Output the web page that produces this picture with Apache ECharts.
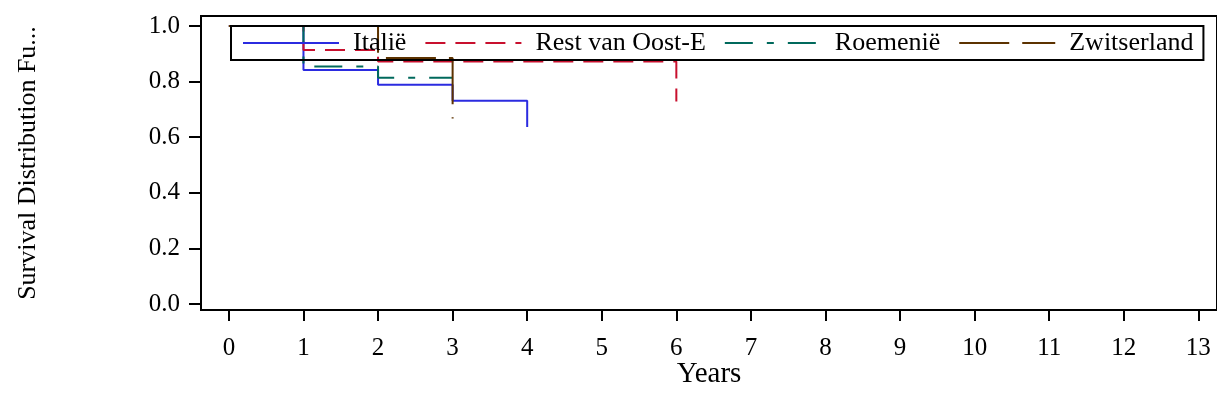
<!DOCTYPE html>
<html>
<head>
<meta charset="utf-8">
<script src="https://cdn.jsdelivr.net/npm/echarts@6/dist/echarts.min.js"></script>
<style>
html,body{margin:0;padding:0;background:#fff;}
#chart{width:1217px;height:410px;}
</style>
</head>
<body>
<div id="chart"></div>
<script>
// Data (Kaplan-Meier step curves)
var seriesNames = ['Italië', 'Rest van Oost-E', 'Roemenië', 'Zwitserland'];
var italieYears = [0, 1, 2, 3, 4];
var italieSurv  = [1.0, 0.842, 0.789, 0.731, 0.637];
var restYears = [0, 1, 2, 6];
var restSurv  = [1.0, 0.914, 0.872, 0.728];
var roemYears = [0, 1, 2, 3];
var roemSurv  = [1.0, 0.854, 0.814, 0.814];
var zwitYears = [0, 2, 3];
var zwitSurv  = [1.0, 0.885, 0.667];
var xTicks = [0, 1, 2, 3, 4, 5, 6, 7, 8, 9, 10, 11, 12, 13];
var yTicks = [0.0, 0.2, 0.4, 0.6, 0.8, 1.0];

function pairs(xs, ys) { return xs.map(function (x, i) { return [x, ys[i]]; }); }

var font = 'Liberation Serif';
var colors = ['#2B2BE0', '#C8102E', '#00695C', '#5C3200'];
var dashes = ['solid', [20, 10], [28, 14, 7, 14], [50, 13]];
var datasets = [pairs(italieYears, italieSurv), pairs(restYears, restSurv), pairs(roemYears, roemSurv), pairs(zwitYears, zwitSurv)];

var chart = echarts.init(document.getElementById('chart'), null, {renderer: 'canvas'});
chart.setOption({
  animation: false,
  backgroundColor: '#fff',
  grid: {left: 201, top: 16, right: -3, bottom: 100, show: true, borderColor: '#000', borderWidth: 2, backgroundColor: 'transparent'},
  legend: {
    data: seriesNames,
    left: 231, top: 26,
    padding: [4, 10, 4, 11],
    itemWidth: 96, itemHeight: 14, itemGap: 18,
    borderColor: '#000', borderWidth: 2,
    backgroundColor: 'transparent',
    itemStyle: {opacity: 0},
    textStyle: {fontFamily: font, fontSize: 26, color: '#000', padding: [0, 0, 0, 9]}
  },
  xAxis: {
    type: 'value', min: -0.374, max: 13.25,
    name: 'Years', nameLocation: 'middle', nameGap: 50, nameMoveOverlap: false,
    nameTextStyle: {fontFamily: font, fontSize: 29, color: '#000'},
    axisLine: {show: true, onZero: false, lineStyle: {color: '#000', width: 2}},
    axisTick: {show: true, length: 11, lineStyle: {color: '#000', width: 2}, customValues: xTicks},
    axisLabel: {fontFamily: font, fontSize: 25, color: '#000', margin: 26, customValues: xTicks},
    splitLine: {show: false}
  },
  yAxis: {
    type: 'value', min: -0.0216, max: 1.036,
    name: 'Survival Distribution Fu...', nameLocation: 'middle', nameGap: 160, nameMoveOverlap: false,
    nameTextStyle: {fontFamily: font, fontSize: 26, color: '#000'},
    axisLine: {show: true, onZero: false, lineStyle: {color: '#000', width: 2}},
    axisTick: {show: true, length: 12, lineStyle: {color: '#000', width: 2}, customValues: yTicks},
    axisLabel: {fontFamily: font, fontSize: 25, color: '#000', margin: 21, customValues: yTicks,
      formatter: function (v) { return v.toFixed(1); }},
    splitLine: {show: false}
  },
  series: seriesNames.map(function (n, i) {
    return {
      name: n, type: 'line', step: 'end', symbol: 'none',
      data: datasets[i],
      lineStyle: {color: colors[i], width: 2, type: dashes[i]},
      itemStyle: {color: colors[i]}
    };
  })
});
</script>
</body>
</html>
